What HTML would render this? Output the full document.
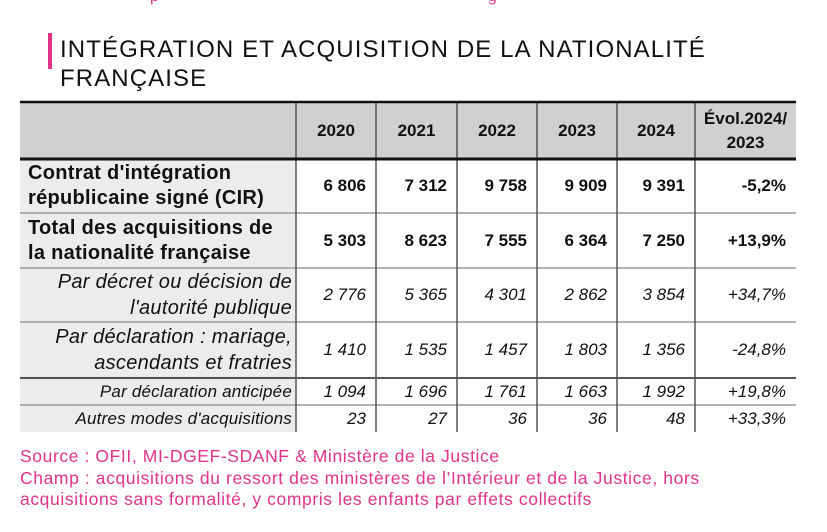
<!DOCTYPE html>
<html><head><meta charset="utf-8"><style>
body{margin:0;width:827px;height:532px;background:#fff;position:relative;overflow:hidden;font-family:"Liberation Sans",sans-serif;color:#111}
.a{position:absolute}
.bar{left:48px;top:33px;width:4px;height:36px;background:#e0338a}
.title{left:60px;top:35px;font-size:24px;line-height:29px;letter-spacing:1.1px}
.src{left:20px;top:446px;font-size:17.5px;line-height:21.5px;color:#e0338a;letter-spacing:0.6px}
.c{position:absolute;box-sizing:border-box;display:flex;align-items:center;justify-content:flex-end;padding-right:10px;font-size:17px}
</style></head><body>
<div class="a" style="left:150px;top:-12px;font-size:16px;color:#e0338a">p&nbsp;&nbsp;&nbsp;&nbsp;&nbsp;&nbsp;&nbsp;&nbsp;&nbsp;&nbsp;&nbsp;&nbsp;&nbsp;&nbsp;&nbsp;&nbsp;&nbsp;&nbsp;&nbsp;&nbsp;&nbsp;&nbsp;&nbsp;&nbsp;&nbsp;&nbsp;&nbsp;&nbsp;&nbsp;&nbsp;&nbsp;&nbsp;&nbsp;&nbsp;&nbsp;&nbsp;&nbsp;&nbsp;&nbsp;&nbsp;&nbsp;&nbsp;&nbsp;&nbsp;&nbsp;&nbsp;&nbsp;&nbsp;&nbsp;&nbsp;&nbsp;&nbsp;&nbsp;&nbsp;&nbsp;&nbsp;&nbsp;&nbsp;&nbsp;&nbsp;&nbsp;&nbsp;&nbsp;&nbsp;&nbsp;&nbsp;&nbsp;&nbsp;&nbsp;&nbsp;&nbsp;&nbsp;&nbsp;&nbsp;g</div>
<div class="a bar"></div>
<div class="a title">INTÉGRATION ET ACQUISITION DE LA NATIONALITÉ<br>FRANÇAISE</div>
<svg class="a" style="left:0;top:0" width="827" height="532">
<rect x="20" y="102" width="776" height="57" fill="#d0d0d0"/>
<rect x="20" y="159" width="276" height="273" fill="#ececec"/>
<g stroke="#999" stroke-width="1.5">
<line x1="20" y1="213" x2="796" y2="213"/><line x1="20" y1="268" x2="796" y2="268"/>
<line x1="20" y1="322" x2="796" y2="322"/><line x1="20" y1="405" x2="796" y2="405"/>
</g>
<line x1="20" y1="378" x2="796" y2="378" stroke="#222" stroke-width="1.5"/>
<g stroke="#555" stroke-width="1.5">
<line x1="296" y1="102" x2="296" y2="432"/><line x1="376" y1="102" x2="376" y2="432"/>
<line x1="457" y1="102" x2="457" y2="432"/><line x1="537" y1="102" x2="537" y2="432"/>
<line x1="617" y1="102" x2="617" y2="432"/><line x1="695" y1="102" x2="695" y2="432"/>
</g>
<line x1="20" y1="102" x2="796" y2="102" stroke="#111" stroke-width="2.5"/>
<line x1="20" y1="159" x2="796" y2="159" stroke="#111" stroke-width="3"/>
</svg>
<div id="t"></div>
<div class="a src">Source : OFII, MI-DGEF-SDANF &amp; Ministère de la Justice<br>Champ : acquisitions du ressort des ministères de l’Intérieur et de la Justice, hors<br>acquisitions sans formalité, y compris les enfants par effets collectifs</div>
<script>
var cols=[20,296,376,457,537,617,695,796];
var rows=[[102,159],[159,213],[213,268],[268,322],[322,378],[378,405],[405,432]];
var data=[
["","2020","2021","2022","2023","2024","Évol.2024/<br>2023"],
["Contrat d'intégration<br>républicaine signé (CIR)","6 806","7 312","9 758","9 909","9 391","-5,2%"],
["Total des acquisitions de<br>la nationalité française","5 303","8 623","7 555","6 364","7 250","+13,9%"],
["Par décret ou décision de<br>l'autorité publique","2 776","5 365","4 301","2 862","3 854","+34,7%"],
["Par déclaration : mariage,<br>ascendants et fratries","1 410","1 535","1 457","1 803","1 356","-24,8%"],
["Par déclaration anticipée","1 094","1 696","1 761","1 663","1 992","+19,8%"],
["Autres modes d'acquisitions","23","27","36","36","48","+33,3%"]];
var h="";
for(var r=0;r<7;r++)for(var c=0;c<7;c++){
var s="left:"+cols[c]+"px;top:"+rows[r][0]+"px;width:"+(cols[c+1]-cols[c])+"px;height:"+(rows[r][1]-rows[r][0])+"px;";
if(r==0){s+="font-weight:bold;justify-content:center;text-align:center;padding:0;line-height:24px;";}
else if(r<3){s+="font-weight:bold;";if(c==0)s+="justify-content:flex-start;padding-left:8px;font-size:20px;line-height:25px;letter-spacing:0.3px;";}
else{s+="font-style:italic;";if(c==0){s+=r>4?"font-size:17px;padding-right:4px;letter-spacing:0.2px;":"font-size:20px;line-height:26px;text-align:right;padding-right:4px;letter-spacing:0.3px;";}}
h+='<div class="c" style="'+s+'">'+(c==0&&r>0?"<div>"+data[r][c]+"</div>":data[r][c])+'</div>';}
document.getElementById("t").innerHTML=h;
</script>
</body></html>
